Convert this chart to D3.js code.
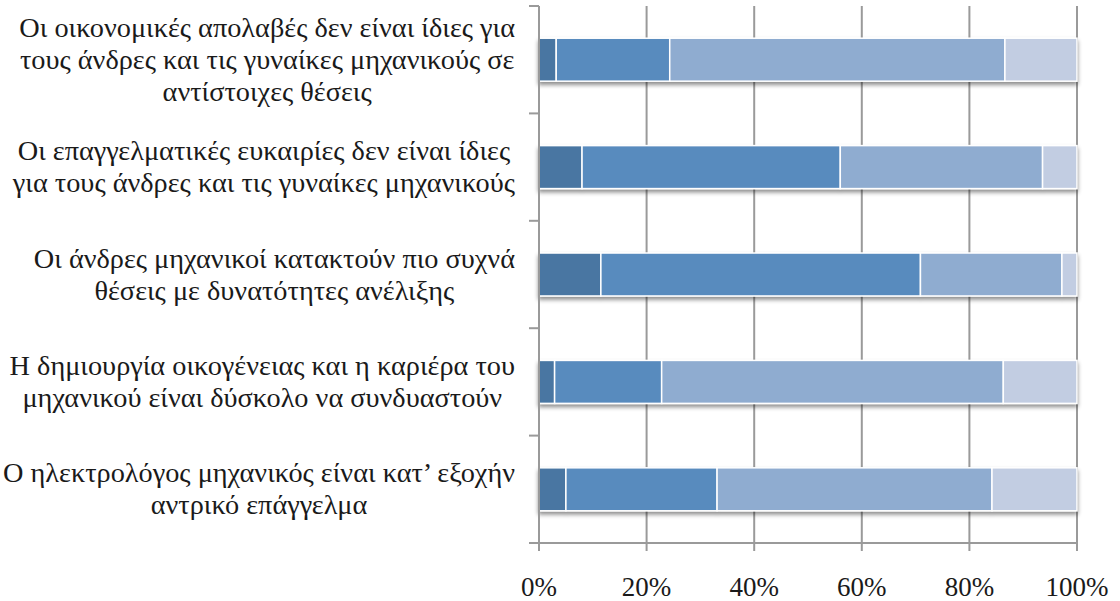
<!DOCTYPE html>
<html>
<head>
<meta charset="utf-8">
<script src="https://cdn.jsdelivr.net/npm/d3@7/dist/d3.min.js"></script>
<style>
  html, body { margin: 0; padding: 0; background: #ffffff; }
  svg { display: block; }
  text { font-family: "Liberation Serif", "DejaVu Serif", serif; fill: #1a1a1a; }
</style>
</head>
<body>
<svg id="chart" width="1120" height="601"></svg>
<script>
// Statements (each split into the lines shown on the axis)
const categories = [
  ["Οι οικονομικές απολαβές δεν είναι ίδιες για", "τους άνδρες και τις γυναίκες μηχανικούς σε", "αντίστοιχες θέσεις"],
  ["Οι επαγγελματικές ευκαιρίες δεν είναι ίδιες", "για τους άνδρες και τις γυναίκες μηχανικούς"],
  ["Οι άνδρες μηχανικοί κατακτούν πιο συχνά", "θέσεις με δυνατότητες ανέλιξης"],
  ["Η δημιουργία οικογένειας και η καριέρα του", "μηχανικού είναι δύσκολο να συνδυαστούν"],
  ["Ο ηλεκτρολόγος μηχανικός είναι κατ’ εξοχήν", "αντρικό επάγγελμα"]
];

// Share of answers per statement (percent), four answer levels
const series1 = [3.2, 8.0, 11.5, 2.9, 5.0];
const series2 = [21.1, 48.0, 59.4, 19.9, 28.1];
const series3 = [62.3, 37.6, 26.3, 63.5, 51.1];
const series4 = [13.4, 6.4, 2.8, 13.7, 15.8];

const tickValues = [0, 0.2, 0.4, 0.6, 0.8, 1.0];

const colors = ["#4876a2", "#598bbe", "#8facd0", "#c2cde2"];

const svg = d3.select("#chart");
const margin = { left: 539, right: 1120 - 1077, top: 6, bottom: 601 - 543 };
const x0 = margin.left, x1 = 1120 - margin.right;
const y0 = margin.top, y1 = 601 - margin.bottom;

const ids = categories.map((_, i) => i);
const rows = ids.map(i => ({ id: i, s0: series1[i], s1: series2[i], s2: series3[i], s3: series4[i] }));
const keys = ["s0", "s1", "s2", "s3"];

// normalise every row to 100%
const stack = d3.stack().keys(keys).offset(d3.stackOffsetExpand);
const layers = stack(rows);

const x = d3.scaleLinear().domain([0, 1]).range([x0, x1]);
const yBand = d3.scaleBand().domain(ids).range([y0, y1]).paddingInner(0.6).paddingOuter(0.3);
const ySlot = d3.scaleBand().domain(ids).range([y0, y1]).padding(0);

// soft shadow under the bars
const defs = svg.append("defs");
const f = defs.append("filter").attr("id", "shadow").attr("x", "-5%").attr("y", "-30%").attr("width", "110%").attr("height", "170%");
f.append("feDropShadow").attr("dx", 0).attr("dy", 3).attr("stdDeviation", 2)
  .attr("flood-color", "#000").attr("flood-opacity", 0.45);

// vertical gridlines
svg.append("g").selectAll("line")
  .data(tickValues.slice(1))
  .join("line")
  .attr("x1", d => x(d)).attr("x2", d => x(d))
  .attr("y1", y0).attr("y2", y1)
  .attr("stroke", "#9a9a9a").attr("stroke-width", 2);

// bars
const barG = svg.append("g");
ids.forEach(i => {
  const g = barG.append("g").attr("filter", "url(#shadow)");
  layers.forEach((layer, k) => {
    const d = layer[i];
    g.append("rect")
      .attr("x", x(d[0]))
      .attr("y", yBand(i))
      .attr("width", x(d[1]) - x(d[0]))
      .attr("height", yBand.bandwidth())
      .attr("fill", colors[k])
      .attr("stroke", "#ffffff")
      .attr("stroke-width", 1.5);
  });
});

// category axis (left) with outward ticks at slot boundaries
const axisColor = "#9a9a9a";
svg.append("line").attr("x1", x0).attr("x2", x0).attr("y1", y0).attr("y2", y1 + 8)
  .attr("stroke", axisColor).attr("stroke-width", 2);
const bounds = ids.map(i => ySlot(i)).concat([y1]);
svg.append("g").selectAll("line").data(bounds).join("line")
  .attr("x1", x0 - 10).attr("x2", x0).attr("y1", d => d).attr("y2", d => d)
  .attr("stroke", axisColor).attr("stroke-width", 2);

// value axis (bottom)
svg.append("line").attr("x1", x0 - 10).attr("x2", x1).attr("y1", y1).attr("y2", y1)
  .attr("stroke", axisColor).attr("stroke-width", 2);
svg.append("g").selectAll("line").data(tickValues).join("line")
  .attr("x1", d => x(d)).attr("x2", d => x(d)).attr("y1", y1).attr("y2", y1 + 8)
  .attr("stroke", axisColor).attr("stroke-width", 2);

const fmt = d3.format(".0%");
svg.append("g").selectAll("text").data(tickValues).join("text")
  .attr("x", d => x(d)).attr("y", 596)
  .attr("text-anchor", "middle")
  .attr("font-size", 27)
  .text(d => fmt(d));

// category labels: lines centred within a block right-aligned to the axis
const labelRight = 515;
const lineH = 32;
const labelG = svg.append("g");
categories.forEach((lines, i) => {
  const cy = ySlot(i) + ySlot.bandwidth() / 2;
  const t = labelG.append("text").attr("font-size", 28.3).attr("text-anchor", "middle");
  const spans = lines.map((ln, j) => t.append("tspan")
    .attr("y", cy + (j - (lines.length - 1) / 2) * lineH + 9)
    .text(ln));
  const widths = spans.map(s => s.node().getComputedTextLength());
  const w = d3.max(widths);
  spans.forEach(s => s.attr("x", labelRight - w / 2));
});
</script>
</body>
</html>
